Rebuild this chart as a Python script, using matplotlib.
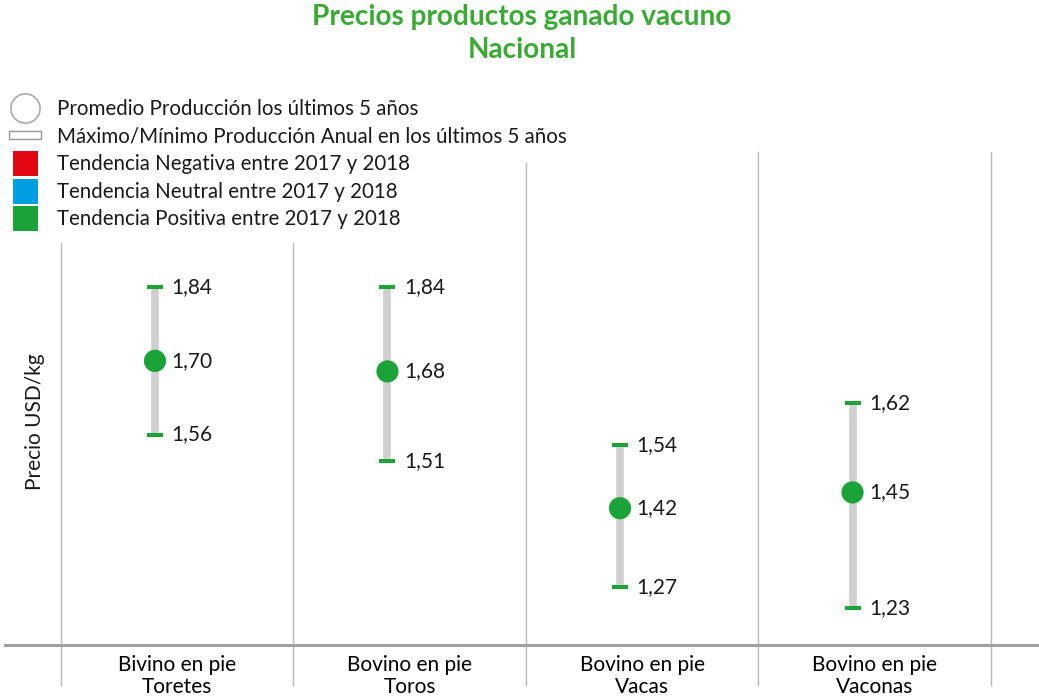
import matplotlib
matplotlib.use("Agg")
import matplotlib.pyplot as plt
from matplotlib.lines import Line2D
import numpy as np

plt.rcParams['font.family'] = ['Lato', 'DejaVu Sans']

# Data
categorias = ['Bivino en pie\nToretes', 'Bovino en pie\nToros',
              'Bovino en pie\nVacas', 'Bovino en pie\nVaconas']
promedio = [1.70, 1.68, 1.42, 1.45]
maximo = [1.84, 1.84, 1.54, 1.62]
minimo = [1.56, 1.51, 1.27, 1.23]
tendencia = ['Positiva', 'Positiva', 'Positiva', 'Positiva']

colores_tend = {'Negativa': '#e30613', 'Neutral': '#009fe3', 'Positiva': '#1ba33a'}
gris_barra = '#d0d0d0'

fig = plt.figure(figsize=(10.39, 6.99), dpi=100)
ax = fig.add_axes([5 / 1039, 54 / 699, 1034 / 1039, 493 / 699])

pos = np.arange(len(categorias))
xm = pos - 0.095  # marks sit left of the cell centre
colores = [colores_tend[t] for t in tendencia]

# min/max bar
ax.vlines(xm, minimo, maximo, color=gris_barra, linewidth=5.5, zorder=2)
# caps
for x, lo, hi, c in zip(xm, minimo, maximo, colores):
    ax.plot([x, x], [lo, hi], linestyle='none', marker='_', markersize=11,
            markeredgewidth=2.9, color=c, zorder=3)
# average
ax.scatter(xm, promedio, s=16 ** 2, color=colores, zorder=4, linewidths=0)

fmt = lambda v: f'{v:.2f}'.replace('.', ',')
for x, p, lo, hi in zip(xm, promedio, minimo, maximo):
    for v in (hi, p, lo):
        ax.annotate(fmt(v), (x, v), xytext=(12, 0), textcoords='offset points',
                    ha='left', va='center', fontsize=15, color='#1a1a1a')

ax.set_xlim(-0.74, 3.707)
ax.set_ylim(1.16, 2.097)

# separators between categories
bordes = np.arange(len(categorias) + 1) - 0.5
topes = [0.815, 0.815, 0.978, 1.0, 1.0]
for b, t in zip(bordes, topes):
    ax.plot([b, b], [-0.081, t], transform=ax.get_xaxis_transform(),
            color='#b8b8b8', linewidth=1, clip_on=False, zorder=1)

ax.set_xticks(pos)
ax.set_xticklabels(categorias, fontsize=15, linespacing=1.15)
ax.tick_params(axis='x', length=0, pad=7)
ax.set_yticks([])
for s in ['top', 'right', 'left']:
    ax.spines[s].set_visible(False)
ax.spines['bottom'].set_color('#a0a0a0')
ax.spines['bottom'].set_linewidth(2.2)

fig.text(35 / 1039, 1 - 422 / 699, 'Precio USD/kg', rotation=90,
         ha='center', va='center', fontsize=15, color='#1a1a1a')

fig.text(522 / 1039, 1 - 4 / 699, 'Precios productos ganado vacuno\nNacional',
         ha='center', va='top', fontsize=20.2, fontweight='bold',
         color='#3aaa35', linespacing=1.33)

# Legend
rect = [(-1, -0.25), (1, -0.25), (1, 0.25), (-1, 0.25), (-1, -0.25)]
handles = [
    Line2D([], [], linestyle='none', marker='o', markersize=21,
           markerfacecolor='white', markeredgecolor='#aaaaaa', markeredgewidth=1.2),
    Line2D([], [], linestyle='none', marker=rect, markersize=23,
           markerfacecolor='white', markeredgecolor='#999999', markeredgewidth=1),
    Line2D([], [], linestyle='none', marker='s', markersize=18,
           markerfacecolor=colores_tend['Negativa'], markeredgewidth=0),
    Line2D([], [], linestyle='none', marker='s', markersize=18,
           markerfacecolor=colores_tend['Neutral'], markeredgewidth=0),
    Line2D([], [], linestyle='none', marker='s', markersize=18,
           markerfacecolor=colores_tend['Positiva'], markeredgewidth=0),
]
etiquetas = ['Promedio Producción los últimos 5 años',
             'Máximo/Mínimo Producción Anual en los últimos 5 años',
             'Tendencia Negativa entre 2017 y 2018',
             'Tendencia Neutral entre 2017 y 2018',
             'Tendencia Positiva entre 2017 y 2018']
leg = fig.legend(handles, etiquetas, loc='upper left',
                 bbox_to_anchor=(4.5 / 1039, 1 - 99 / 699), frameon=False,
                 fontsize=14.8, borderpad=0, borderaxespad=0, handlelength=2.0,
                 handletextpad=0.56, labelspacing=0.37, numpoints=1)
for t in leg.get_texts():
    t.set_color('#1a1a1a')

fig.savefig('out.png', dpi=100)
